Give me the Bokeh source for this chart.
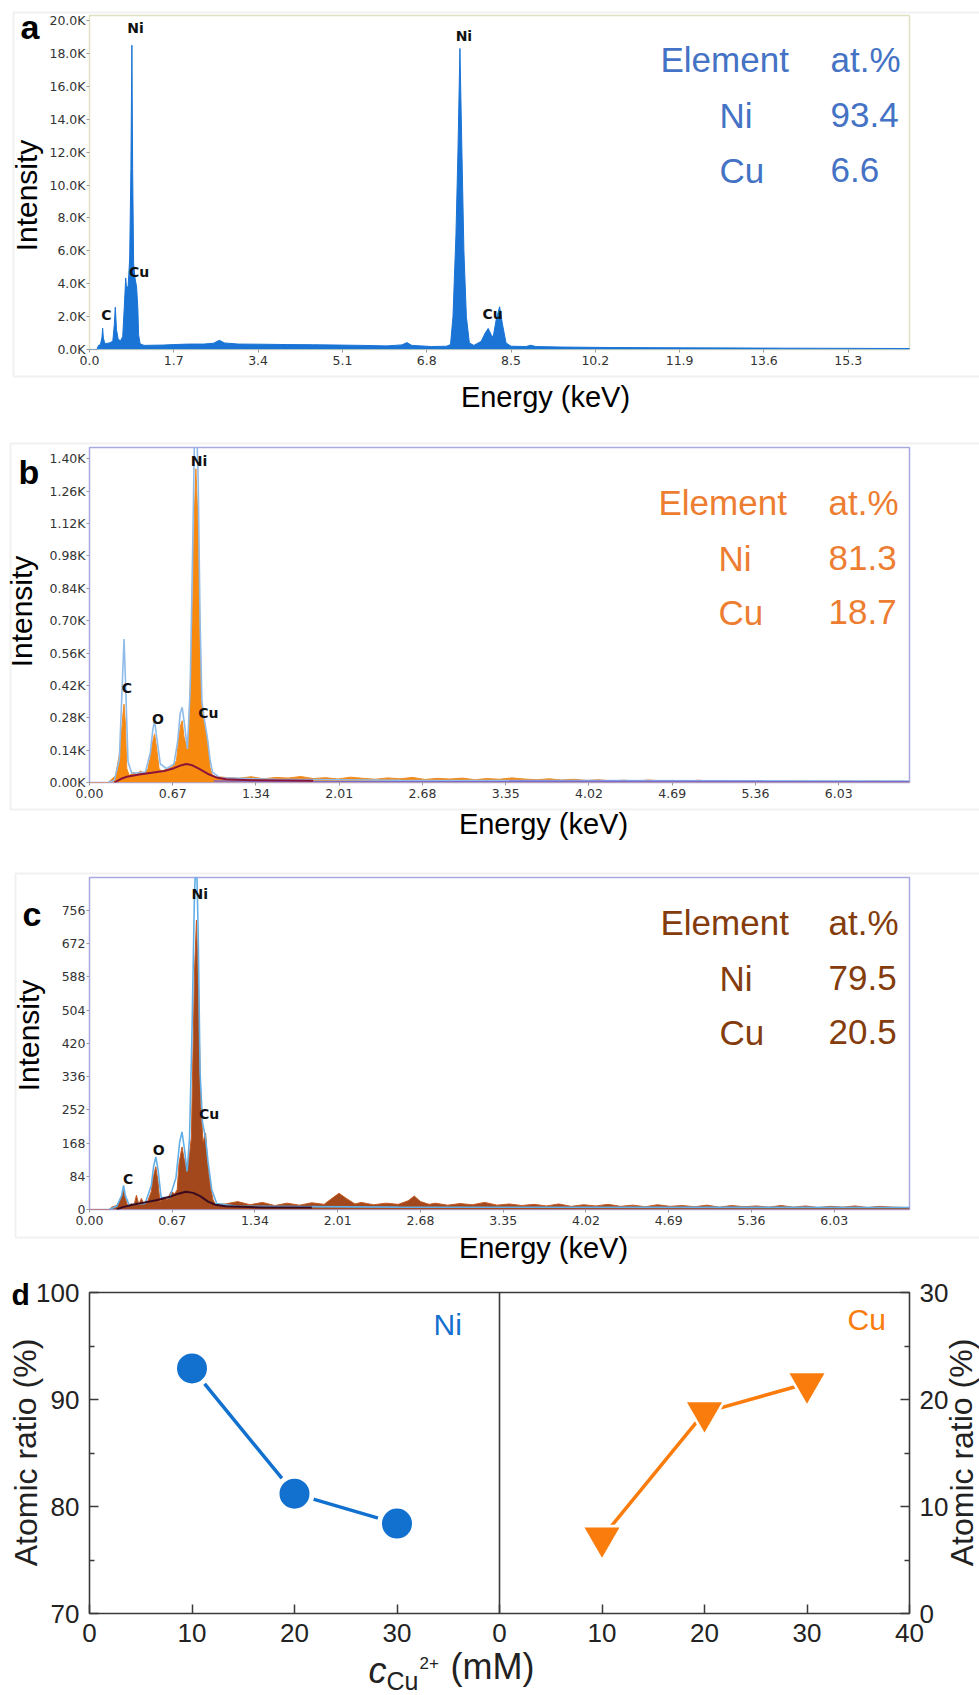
from bokeh.plotting import figure
from bokeh.layouts import column
from bokeh.models import (Label, BoxAnnotation, FixedTicker, PrintfTickFormatter, Span, LinearAxis,
                          Range1d, GridBox)
from bokeh.embed import file_html
from bokeh.resources import INLINE

# ---------------- data: panel a (blue spectrum) ----------------
a_energy = [0.00, 0.15, 0.18, 0.22, 0.25, 0.265, 0.28, 0.31, 0.40, 0.47, 0.50, 0.52, 0.545, 0.58, 0.63,
            0.67, 0.70, 0.73, 0.75, 0.78, 0.81, 0.835, 0.855, 0.87, 0.89, 0.92, 0.95, 0.975, 0.99, 1.02,
            1.10, 1.50, 1.70, 2.00, 2.30, 2.50, 2.62, 2.72, 3.00, 3.50, 4.00, 4.50, 5.00, 5.50, 6.00,
            6.30, 6.40, 6.50, 6.90, 7.20, 7.28, 7.33, 7.39, 7.43, 7.47, 7.51, 7.55, 7.60, 7.66, 7.75,
            7.90, 7.98, 8.04, 8.10, 8.14, 8.20, 8.27, 8.33, 8.40, 8.50, 8.80, 8.90, 9.00, 9.50, 10.5,
            12.0, 14.0, 16.6]
a_counts = [0, 0, 250, 300, 700, 1300, 700, 350, 400, 500, 1500, 2570, 1200, 600, 550,
            800, 2500, 4350, 3600, 3900, 5500, 11000, 18500, 11000, 5200, 4300, 3800, 2500, 900, 350,
            250, 270, 300, 330, 330, 380, 560, 400, 330, 320, 300, 290, 270, 250, 220,
            280, 420, 250, 180, 200, 300, 2000, 7000, 12000, 18300, 12000, 6000, 2000, 400, 250,
            500, 1000, 1280, 900, 750, 1800, 2600, 1500, 400, 200, 180, 260, 180, 150, 120,
            100, 80, 60]
a_xticks = [0.0, 1.7, 3.4, 5.1, 6.8, 8.5, 10.2, 11.9, 13.6, 15.3]
a_yticks = [0, 2000, 4000, 6000, 8000, 10000, 12000, 14000, 16000, 18000, 20000]
a_ytick_labels = ["0.0K", "2.0K", "4.0K", "6.0K", "8.0K", "10.0K", "12.0K", "14.0K", "16.0K", "18.0K", "20.0K"]
a_peak_names = ["C", "Ni", "Cu", "Ni", "Cu"]
a_peak_energy = [0.34, 0.93, 1.00, 7.55, 8.13]
a_peak_counts = [1620, 19030, 4200, 18590, 1660]
a_elements = ["Ni", "Cu"]
a_atpct = ["93.4", "6.6"]

# ---------------- data: panel b (orange spectrum) ----------------
b_energy = [0.00, 0.15, 0.17, 0.21, 0.24, 0.255, 0.27, 0.278, 0.29, 0.30, 0.32, 0.35, 0.38, 0.41, 0.44,
            0.47, 0.49, 0.51, 0.524, 0.54, 0.56, 0.58, 0.61, 0.64, 0.67, 0.70, 0.72, 0.735, 0.746, 0.76,
            0.775, 0.788, 0.80, 0.815, 0.83, 0.843, 0.856, 0.868, 0.878, 0.89, 0.90, 0.92, 0.935, 0.95, 0.97,
            0.99, 1.02,
            1.1, 1.2, 1.3, 1.4, 1.5, 1.6, 1.7, 1.8, 1.9, 2.0, 2.1, 2.2, 2.3, 2.4, 2.5, 2.6, 2.7, 2.8, 2.9,
            3.0, 3.1, 3.2, 3.3, 3.4, 3.5, 3.6, 3.7, 3.8, 3.9, 4.0, 4.1, 4.2, 4.3, 4.4, 4.5, 4.6, 4.7, 4.8,
            4.9, 5.0, 5.1, 5.2, 5.3, 5.4, 5.5, 5.6, 5.7, 5.8, 5.9, 6.0, 6.1, 6.2, 6.3, 6.4, 6.5, 6.6]
b_counts = [0, 0, 10, 30, 120, 200, 300, 339, 250, 60, 30, 45, 35, 50, 40,
            60, 110, 180, 210, 150, 60, 50, 55, 60, 70, 95, 200, 250, 267, 200,
            170, 159, 250, 500, 760, 1150, 1357, 1200, 1046, 600, 354, 281, 230, 180, 65,
            30, 25,
            22, 18, 25, 16, 22, 19, 26, 17, 21, 15, 23, 18, 14, 20, 16, 22, 13, 18, 15,
            19, 12, 17, 14, 20, 15, 12, 16, 11, 14, 9, 12, 7, 10, 6, 11, 7, 9, 5,
            10, 6, 8, 5, 9, 4, 8, 5, 9, 4, 7, 5, 8, 4, 7, 5, 6, 4]
b_fit_energy = [0.15, 0.20, 0.24, 0.262, 0.278, 0.292, 0.31, 0.34, 0.45, 0.49, 0.51, 0.524, 0.54, 0.57,
                0.62, 0.68, 0.71, 0.73, 0.746, 0.765, 0.788, 0.81, 0.83, 0.845, 0.86, 0.875, 0.89, 0.905,
                0.925, 0.95, 0.97, 0.99, 1.05, 1.5, 2.5, 4.0, 6.6]
b_fit_counts = [0, 10, 100, 400, 621, 400, 90, 40, 45, 130, 230, 267, 200, 80,
                60, 80, 180, 300, 325, 250, 145, 400, 1000, 1500, 1600, 1300, 700, 350,
                270, 190, 100, 45, 20, 14, 10, 8, 6]
b_bg_energy = [0.20, 0.25, 0.30, 0.40, 0.50, 0.60, 0.68, 0.74, 0.78, 0.82, 0.88, 0.95, 1.02, 1.10, 1.3, 1.6, 1.8]
b_bg_counts = [0, 15, 25, 35, 42, 50, 62, 75, 80, 76, 60, 38, 22, 14, 10, 9, 8]
b_base_energy = [1.0, 6.6]
b_base_counts = [6, 4]
bc_xticks = [0.0, 0.67, 1.34, 2.01, 2.68, 3.35, 4.02, 4.69, 5.36, 6.03]
b_yticks = [0, 140, 280, 420, 560, 700, 840, 980, 1120, 1260, 1400]
b_ytick_labels = ["0.00K", "0.14K", "0.28K", "0.42K", "0.56K", "0.70K", "0.84K", "0.98K", "1.12K", "1.26K", "1.40K"]
b_peak_names = ["C", "O", "Ni", "Cu"]
b_peak_energy = [0.30, 0.55, 0.882, 0.956]
b_peak_counts = [375, 238, 1357, 267]
b_atpct = ["81.3", "18.7"]

# ---------------- data: panel c (brown spectrum) ----------------
c_energy = [0.00, 0.16, 0.18, 0.22, 0.25, 0.265, 0.276, 0.29, 0.31, 0.34, 0.36, 0.38, 0.40, 0.42, 0.44,
            0.47, 0.50, 0.515, 0.537, 0.555, 0.57, 0.60, 0.63, 0.66, 0.69, 0.71, 0.725, 0.749, 0.765, 0.79,
            0.81, 0.825, 0.835, 0.85, 0.866, 0.877, 0.885, 0.90, 0.92, 0.94, 0.955, 0.97, 0.98, 1.00, 1.02,
            1.1, 1.2, 1.3, 1.4, 1.5, 1.6, 1.7, 1.8, 1.9, 1.95, 2.02, 2.08, 2.15, 2.2, 2.3, 2.4, 2.5, 2.58,
            2.63, 2.68, 2.75, 2.8, 2.9, 3.0, 3.1, 3.2, 3.3, 3.4, 3.5, 3.6, 3.7, 3.8, 3.9, 4.0, 4.1, 4.2,
            4.3, 4.4, 4.5, 4.6, 4.7, 4.8, 4.9, 5.0, 5.1, 5.2, 5.3, 5.4, 5.5, 5.6, 5.7, 5.8, 5.9, 6.0, 6.1,
            6.2, 6.3, 6.4, 6.5, 6.64]
c_counts = [0, 0, 6, 10, 25, 40, 49, 30, 8, 15, 10, 36, 12, 28, 14,
            20, 45, 80, 108, 70, 20, 30, 25, 45, 40, 50, 117, 158, 130, 99,
            140, 183, 352, 600, 731, 620, 521, 268, 170, 193, 125, 80, 57, 25, 12,
            14, 20, 12, 18, 10, 16, 11, 17, 13, 25, 41, 28, 14, 18, 12, 16, 13, 22,
            34, 20, 13, 16, 11, 15, 12, 18, 11, 14, 10, 13, 9, 14, 8, 12, 9, 13,
            8, 11, 7, 12, 8, 10, 7, 11, 6, 10, 7, 9, 6, 10, 6, 9, 5, 8, 6,
            9, 5, 8, 6, 5]
c_fit_energy = [0.16, 0.22, 0.26, 0.276, 0.29, 0.32, 0.45, 0.50, 0.52, 0.537, 0.555, 0.58, 0.65, 0.70,
                0.73, 0.749, 0.77, 0.79, 0.81, 0.83, 0.85, 0.866, 0.88, 0.895, 0.915, 0.94, 0.96, 0.99,
                1.03, 1.2, 2.5, 6.64]
c_fit_counts = [0, 8, 35, 61, 35, 12, 15, 60, 110, 133, 100, 30, 30, 80,
                170, 196, 150, 96, 180, 450, 800, 900, 700, 350, 220, 180, 120, 50,
                15, 8, 6, 5]
c_bg_energy = [0.22, 0.27, 0.35, 0.45, 0.55, 0.65, 0.72, 0.78, 0.84, 0.90, 0.96, 1.02, 1.10, 1.4, 1.8]
c_bg_counts = [0, 6, 12, 18, 24, 32, 40, 45, 42, 33, 20, 12, 8, 5, 5]
c_yticks = [0, 84, 168, 252, 336, 420, 504, 588, 672, 756]
c_peak_names = ["C", "O", "Ni", "Cu"]
c_peak_energy = [0.313, 0.56, 0.893, 0.968]
c_peak_counts = [56, 129, 777, 221]
c_atpct = ["79.5", "20.5"]

# ---------------- data: panel d ----------------
conc_mM = [10, 20, 30]
ni_ratio = [92.9, 81.2, 78.4]
cu_ratio = [7.1, 18.8, 21.5]
d_xticks = [0, 10, 20, 30, 40, 50, 60, 70, 80]
d_xtick_labels = ["0", "10", "20", "30", "0", "10", "20", "30", "40"]

W = 979
H = 1695
SANS = "Liberation Sans"
NI_BLUE = "#1271CF"
CU_ORANGE = "#FA7C0C"


def label(p, x, y, text, size, color="#000000", align="left", baseline="middle",
          style="normal", angle=0.0, units="canvas", font=SANS):
    p.add_layout(Label(x=x, y=y, x_units=units, y_units=units, text=text, text_font=font,
                       text_font_size=f"{size}px", text_color=color, text_align=align,
                       text_baseline=baseline, text_font_style=style, angle=angle))


def spec_fig(h, top, bottom, left, xmax, ymax, frame_color):
    p = figure(width=W, height=h, x_range=Range1d(0, xmax), y_range=Range1d(0, ymax),
               output_backend="svg", toolbar_location=None,
               min_border_left=left, min_border_right=0, min_border_top=top, min_border_bottom=bottom)
    p.xgrid.visible = False
    p.ygrid.visible = False
    p.outline_line_color = frame_color
    p.outline_line_width = 1.5
    p.outline_line_alpha = 1.0
    for ax in (p.xaxis, p.yaxis):
        ax.axis_line_color = None
        ax.major_tick_in = 0
        ax.major_tick_out = 3
        ax.major_tick_line_color = "#9a9a9a"
        ax.minor_tick_line_color = None
        ax.major_label_text_font = "DejaVu Sans"
        ax.major_label_text_font_size = "12.5px"
        ax.major_label_text_color = "#333333"
    p.xaxis.major_label_standoff = 3
    p.yaxis.major_label_standoff = 1
    return p


def table(p, rows_y, color, elements, values, ex, vx, head_y, hx):
    label(p, hx, head_y, "Element", 35, color)
    label(p, vx, head_y, "at.%", 35, color)
    for yy, el, v in zip(rows_y, elements, values):
        label(p, ex, yy, el, 35, color)
        label(p, vx, yy, v, 35, color)


def peak_labels(p, names, energies, counts):
    for n, e, c in zip(names, energies, counts):
        label(p, e, c, n, 14, "#111111", align="center", baseline="bottom", style="bold",
              units="data", font="DejaVu Sans")


# ================= panel a =================
pa = spec_fig(425, 15, 76, 88, 16.536, 20304, "#e0e0c2")
pa.varea(x=a_energy, y1=0, y2=a_counts, fill_color="#1a74d6")
pa.line(a_energy, a_counts, line_color="#1a74d6", line_width=1)
pa.xaxis.ticker = FixedTicker(ticks=a_xticks)
pa.xaxis.formatter = PrintfTickFormatter(format="%.1f")
pa.yaxis.ticker = FixedTicker(ticks=a_yticks)
pa.yaxis.major_label_overrides = dict(zip(a_yticks, a_ytick_labels))
peak_labels(pa, a_peak_names, a_peak_energy, a_peak_counts)
table(pa, [114.5, 169.5], "#4472C4", a_elements, a_atpct, 719, 830, 59, 660)

# ================= panel b =================
pb = spec_fig(417, 22, 60, 85, 6.600, 1449, "#a9a9e2")
pb.varea(x=b_energy, y1=0, y2=b_counts, fill_color="#f7890f")
pb.line(b_energy, b_counts, line_color="#f08a20", line_width=1)
pb.line(b_fit_energy, b_fit_counts, line_color="#8fbbe8", line_width=1.6)
pb.line(b_base_energy, b_base_counts, line_color="#7a6ad0", line_width=1.5)
pb.line(b_bg_energy, b_bg_counts, line_color="#8c1438", line_width=2)
pb.xaxis.ticker = FixedTicker(ticks=bc_xticks)
pb.xaxis.formatter = PrintfTickFormatter(format="%.2f")
pb.yaxis.ticker = FixedTicker(ticks=b_yticks)
pb.yaxis.major_label_overrides = dict(zip(b_yticks, b_ytick_labels))
peak_labels(pb, b_peak_names, b_peak_energy, b_peak_counts)
table(pb, [557.5 - 425, 611.5 - 425], "#ED7D31", a_elements, b_atpct, 718, 828, 501.5 - 425, 658)

# ================= panel c =================
pc = spec_fig(423, 35, 56, 89, 6.640, 839, "#a9a9e2")
pc.varea(x=c_energy, y1=0, y2=c_counts, fill_color="#a2481c")
pc.line(c_energy, c_counts, line_color="#c65a22", line_width=1)
pc.line(c_fit_energy, c_fit_counts, line_color="#62aee6", line_width=1.6)
pc.line(c_bg_energy, c_bg_counts, line_color="#3a0b1e", line_width=2)
pc.xaxis.ticker = FixedTicker(ticks=bc_xticks)
pc.xaxis.formatter = PrintfTickFormatter(format="%.2f")
pc.yaxis.ticker = FixedTicker(ticks=c_yticks)
peak_labels(pc, c_peak_names, c_peak_energy, c_peak_counts)
table(pc, [977.5 - 842, 1031.5 - 842], "#843C0C", a_elements, c_atpct, 719, 828, 921.5 - 842, 660)

# ================= panel d =================
pd_ = figure(width=W, height=430, x_range=Range1d(0, 80), y_range=Range1d(70, 100),
             output_backend="svg", toolbar_location=None,
             min_border_left=88, min_border_right=70, min_border_top=27, min_border_bottom=82)
pd_.extra_x_ranges = {"cu": Range1d(-40, 40)}
pd_.extra_y_ranges = {"cu": Range1d(0, 30)}
pd_.xgrid.visible = False
pd_.ygrid.visible = False
pd_.outline_line_color = "#3a3a3a"
pd_.outline_line_width = 1.6
pd_.outline_line_alpha = 1.0

ax_r = LinearAxis(y_range_name="cu")
pd_.add_layout(ax_r, "right")
pd_.xaxis.ticker = FixedTicker(ticks=d_xticks)
pd_.xaxis.major_label_overrides = dict(zip(d_xticks, d_xtick_labels))
pd_.yaxis[0].ticker = FixedTicker(ticks=[70, 80, 90, 100], minor_ticks=[75, 85, 95])
ax_r.ticker = FixedTicker(ticks=[0, 10, 20, 30], minor_ticks=[5, 15, 25])
for ax in pd_.xaxis + pd_.yaxis:
    ax.axis_line_color = None
    ax.major_tick_in = 9
    ax.major_tick_out = 0
    ax.major_tick_line_color = "#3a3a3a"
    ax.major_tick_line_width = 1.5
    ax.minor_tick_in = 5
    ax.minor_tick_out = 0
    ax.minor_tick_line_color = "#3a3a3a"
    ax.minor_tick_line_width = 1.5
    ax.major_label_text_font = SANS
    ax.major_label_text_font_size = "26px"
    ax.major_label_text_color = "#222222"
    ax.major_label_standoff = 10
pd_.xaxis.minor_tick_line_color = None
pd_.add_layout(Span(location=40, dimension="height", line_color="#3a3a3a", line_width=1.6))

pd_.line(conc_mM, ni_ratio, line_color=NI_BLUE, line_width=3.5)
pd_.scatter(conc_mM, ni_ratio, size=40, marker="circle", fill_color="white", line_color=None)
pd_.scatter(conc_mM, ni_ratio, size=30, marker="circle", fill_color=NI_BLUE, line_color=None)
pd_.line(conc_mM, cu_ratio, line_color=CU_ORANGE, line_width=3.5, x_range_name="cu", y_range_name="cu")
pd_.scatter(conc_mM, cu_ratio, size=44, marker="inverted_triangle", fill_color="white", line_color=None,
            x_range_name="cu", y_range_name="cu")
pd_.scatter(conc_mM, cu_ratio, size=35, marker="inverted_triangle", fill_color=CU_ORANGE, line_color=None,
            x_range_name="cu", y_range_name="cu")
label(pd_, 433, 1323.5 - 1265, "Ni", 30, NI_BLUE)
label(pd_, 847, 1318.5 - 1265, "Cu", 30, CU_ORANGE)

stack = column(pa, pb, pc, pd_, spacing=0)

# ============ transparent overlay for texts / frames outside the plot areas ============
ov = figure(width=W, height=H, x_range=Range1d(0, W), y_range=Range1d(H, 0),
            x_axis_type=None, y_axis_type=None, output_backend="svg", toolbar_location=None,
            min_border=0)
ov.grid.visible = False
ov.outline_line_color = None
ov.background_fill_color = None
ov.border_fill_color = None
ov.background_fill_alpha = 0
ov.border_fill_alpha = 0

for (l, t, b) in [(13, 12, 376), (10, 443, 809), (15, 873, 1237)]:
    ov.add_layout(BoxAnnotation(left=l, right=W + 20, top=t, bottom=b, fill_alpha=0.0,
                                line_color="#d2d2d2", line_width=2))

label(ov, 20, 26, "a", 34, style="bold", units="data")
label(ov, 18, 471, "b", 34, style="bold", units="data")
label(ov, 22, 913, "c", 34, style="bold", units="data")
label(ov, 11, 1294, "d", 30, style="bold", units="data")
for (x, y) in [(26, 195), (21, 611), (28, 1035)]:
    label(ov, x, y, "Intensity", 30, align="center", angle=1.5708, units="data")
for (x, y) in [(545, 396), (543, 823), (543, 1247)]:
    label(ov, x, y, "Energy (keV)", 29, align="center", units="data")
label(ov, 25, 1452, "Atomic ratio (%)", 32, "#222222", align="center", angle=1.5708, units="data")
label(ov, 961, 1452, "Atomic ratio (%)", 32, "#222222", align="center", angle=1.5708, units="data")
label(ov, 368, 1670, "c", 36, "#222222", style="italic", units="data")
label(ov, 386, 1680, "Cu", 25, "#222222", units="data")
label(ov, 419, 1662, "2+", 17, "#222222", units="data")
label(ov, 450, 1666, "(mM)", 36, "#222222", units="data")

page = GridBox(children=[(stack, 0, 0), (ov, 0, 0)])
open("out.html", "w").write(file_html(page, INLINE))
